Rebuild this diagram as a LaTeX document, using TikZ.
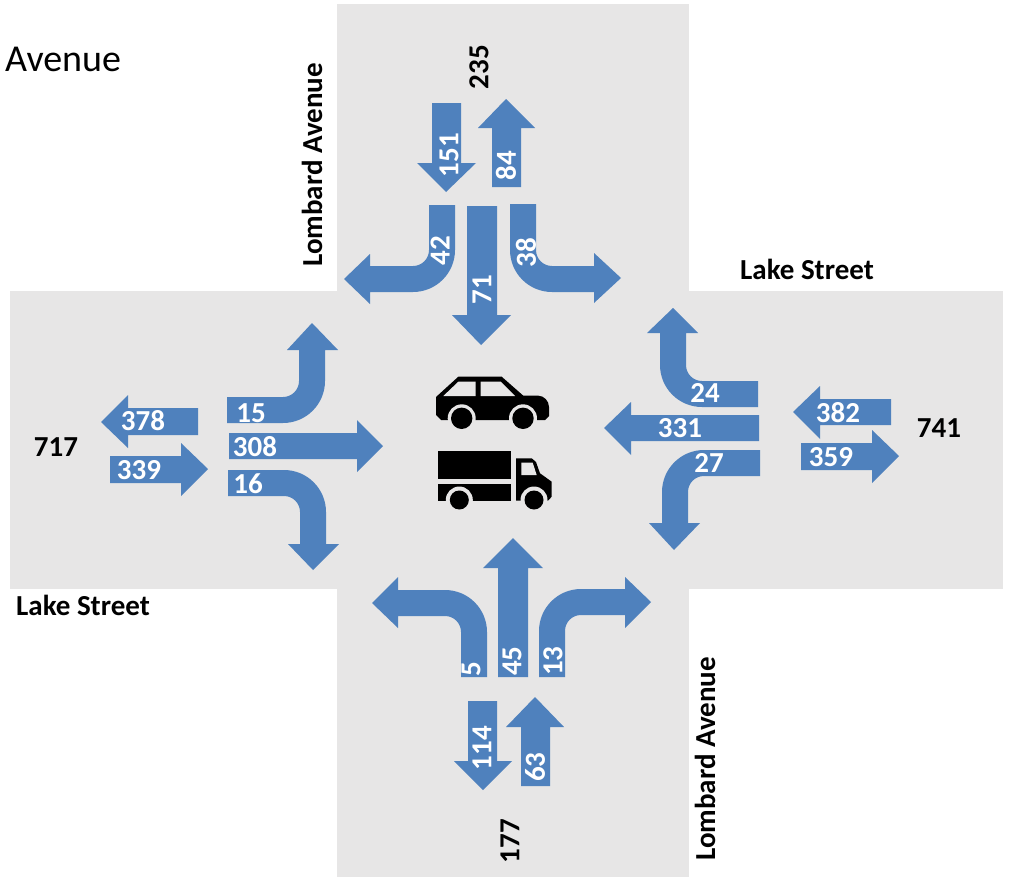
\documentclass[tikz,border=0pt]{standalone}
\usepackage{fontspec}
\setmainfont{Carlito}
\definecolor{roadgray}{rgb}{0.906,0.902,0.902}
\definecolor{flowblue}{rgb}{0.31,0.506,0.741}
\tikzset{
  flow/.style={fill=flowblue,draw=none},
  flowcount/.style={text=white,font=\fontsize{29}{34}\selectfont\bfseries,inner sep=0pt},
  roadlabel/.style={text=black,font=\fontsize{29}{34}\selectfont\bfseries,inner sep=0pt},
}

\begin{document}
\begin{tikzpicture}[line cap=round,line join=miter,x=1pt,y=-1pt]
\useasboundingbox (0,0) rectangle (1010,878);
\fill [color=roadgray] (337,4) rectangle (689,877);
\fill [color=roadgray] (10,291) rectangle (1003,589);

% north
\fill [flow] (432,103)-- (461,103)-- (461,163)-- (476,163)-- (446,192)-- (417,163)-- (432,163)-- cycle;
\fill [flow] (492,187)-- (521,187)-- (521,128)-- (535,128)-- (506,99)-- (478,128)-- (492,128)-- cycle;
\fill [flow] (467,206)-- (497,206)-- (497,315)-- (511,315)-- (481,345)-- (452,315)-- (467,315)-- cycle;
\fill [flow] (429,205)-- (455,205)-- (455,250) arc (0:90:42)-- (370,292)-- (370,304)-- (344,279)-- (370,254)-- (370,266)-- (413,266) arc (90:0:16)-- cycle;
\fill [flow] (510,204)-- (536,204)-- (536,250) arc (180:90:16)-- (594,266)-- (594,253)-- (621,278)-- (594,303)-- (594,292)-- (552,292) arc (90:180:42)-- cycle;
% east
\fill [flow] (758,381)-- (758,407)-- (702,407) arc (90:180:42)-- (660,333)-- (647,333)-- (673,308)-- (698,333)-- (686,333)-- (686,365) arc (180:90:16)-- cycle;
\fill [flow] (759,415)-- (759,441)-- (631,441)-- (631,455)-- (604,428)-- (631,402)-- (631,415)-- cycle;
\fill [flow] (760,450)-- (760,476)-- (704,476) arc (270:180:16)-- (688,523)-- (700,523)-- (674,550)-- (649,523)-- (662,523)-- (662,492) arc (180:270:42)-- cycle;
\fill [flow] (891,399)-- (891,425)-- (820,425)-- (820,439)-- (793,412)-- (820,386)-- (820,399)-- cycle;
\fill [flow] (801,443)-- (801,470)-- (872,470)-- (872,483)-- (899,456)-- (872,430)-- (872,443)-- cycle;
% west
\fill [flow] (227,397)-- (283,397) arc (90:0:16)-- (299,350)-- (287,350)-- (312,323)-- (338,350)-- (325,350)-- (325,381) arc (0:90:42)-- (227,423)-- cycle;
\fill [flow] (229,433)-- (357,433)-- (357,420)-- (383,446)-- (357,472)-- (357,459)-- (229,459)-- cycle;
\fill [flow] (228,470)-- (284,470) arc (270:360:42)-- (326,544)-- (339,544)-- (313,570)-- (288,544)-- (300,544)-- (300,512) arc (360:270:16)-- (228,496)-- cycle;
\fill [flow] (198,408)-- (198,435)-- (128,435)-- (128,448)-- (101,422)-- (128,395)-- (128,408)-- cycle;
\fill [flow] (110,456)-- (110,483)-- (181,483)-- (181,496)-- (208,469)-- (181,443)-- (181,456)-- cycle;
% south
\fill [flow] (461,677)-- (487,677)-- (487,632) arc (360:270:42)-- (398,590)-- (398,577)-- (372,603)-- (398,628)-- (398,616)-- (445,616) arc (270:360:16)-- cycle;
\fill [flow] (498,677)-- (528,677)-- (528,568)-- (543,568)-- (513,538)-- (483,568)-- (498,568)-- cycle;
\fill [flow] (539,677)-- (565,677)-- (565,631) arc (180:270:16)-- (625,615)-- (625,628)-- (651,602)-- (625,577)-- (625,589)-- (581,589) arc (270:180:42)-- cycle;
\fill [flow] (468,701)-- (497,701)-- (497,761)-- (512,761)-- (483,790)-- (454,761)-- (468,761)-- cycle;
\fill [flow] (521,786)-- (550,786)-- (550,727)-- (564,727)-- (535,697)-- (506,727)-- (521,727)-- cycle;

% car
\fill [color=black] (436,397)-- (458.3,376.7)-- (501.7,376.7)-- (523.3,395.7)-- (538.3,395.7) .. controls (544,395.7) and (549,401) .. (549,407)-- (549,416)-- (545,420)-- (441,420)-- (436,415)-- cycle;
\fill [color=roadgray] (443.3,396)-- (458.3,381.7)-- (475.7,381.7)-- (475.7,396)-- cycle;
\fill [color=roadgray] (480.7,381.7)-- (500.7,381.7)-- (515,396)-- (480.7,396)-- cycle;
\fill [color=roadgray] (461.7,418.3) circle (14);
\fill [color=roadgray] (523,418.3) circle (14);
\fill [color=black] (461.7,418.3) circle (10.7);
\fill [color=black] (523,418.3) circle (10.7);
% truck
\fill [color=black] (438.3,450.7) rectangle (511,479.3);
\fill [color=black] (438.3,484) rectangle (511,500.7);
\fill [color=black] (516,458.3)-- (531.7,458.3)-- (536,462)-- (540,473.3)-- (551.7,481.7)-- (551.7,496.7)-- (548,500.7)-- (516,500.7)-- cycle;
\fill [color=roadgray] (521.3,462.7)-- (532.7,462.7)-- (536.7,475)-- (521.3,475)-- cycle;
\fill [color=roadgray] (459.3,500) circle (13.5);
\fill [color=roadgray] (534,500) circle (13.5);
\fill [color=black] (459.3,500) circle (9.5);
\fill [color=black] (534,500) circle (9.5);

\node [flowcount,rotate=90] (nthru) at (449,155) {151};
\node [flowcount,rotate=90] (nout) at (506,166) {84};
\node [flowcount,rotate=90] (nright) at (440,251) {42};
\node [flowcount,rotate=90] (nleft) at (526,253) {38};
\node [flowcount,rotate=90] (nstraight) at (482,290) {71};
\node [flowcount] (eright) at (705,393) {24};
\node [flowcount] (estraight) at (680,428) {331};
\node [flowcount] (eleft) at (709,463) {27};
\node [flowcount] (ein) at (838,413) {382};
\node [flowcount] (eout) at (831,457) {359};
\node [flowcount] (wleft) at (251,413) {15};
\node [flowcount] (wstraight) at (255,447) {308};
\node [flowcount] (wright) at (248,484) {16};
\node [flowcount] (wout) at (143,421) {378};
\node [flowcount] (win) at (139,470) {339};
\node [flowcount,rotate=90] (sleft) at (471,669) {5};
\node [flowcount,rotate=90] (sstraight) at (512,661) {45};
\node [flowcount,rotate=90] (sright) at (553,661) {13};
\node [flowcount,rotate=90] (sout) at (482,748) {114};
\node [flowcount,rotate=90] (sin) at (535,767) {63};

\node [roadlabel,rotate=90] (ntotal) at (479,67) {235};
\node [roadlabel,rotate=90] (stotal) at (510,841) {177};
\node [roadlabel] (wtotal) at (56,447) {717};
\node [roadlabel] (etotal) at (939,428) {741};
\node [roadlabel,rotate=90] (lombardn) at (312,165) {Lombard Avenue};
\node [roadlabel,rotate=90] (lombards) at (705,759) {Lombard Avenue};
\node [roadlabel] (lakee) at (807,269) {Lake Street};
\node [roadlabel] (lakew) at (83,605) {Lake Street};
\node [anchor=base west,inner sep=0pt,font=\fontsize{38}{44}\selectfont] (corner) at (5,71) {Avenue};
\end{tikzpicture}
\end{document}
